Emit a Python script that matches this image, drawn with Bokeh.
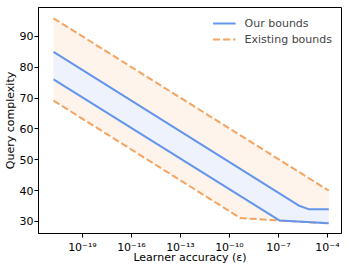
from bokeh.plotting import figure
from bokeh.models import FixedTicker, Legend, LegendItem, Range1d
from bokeh.embed import file_html
from bokeh.resources import INLINE

# ---- data ----
our_upper_eps = [1.7e-21, 1.7e-6, 7.0e-6, 1.2e-4]
our_upper_q = [85.0, 35.2, 34.0, 34.0]
our_lower_eps = [1.7e-21, 1.2e-7, 1.2e-4]
our_lower_q = [76.1, 30.3, 29.4]
ex_upper_eps = [1.7e-21, 1.2e-4]
ex_upper_q = [95.9, 40.0]
ex_lower_eps = [1.7e-21, 4.7e-10, 1.2e-7, 1.2e-4]
ex_lower_q = [69.2, 31.1, 30.3, 29.4]

x_tick_values = [1e-19, 1e-16, 1e-13, 1e-10, 1e-7, 1e-4]
x_tick_labels = ["10⁻¹⁹", "10⁻¹⁶", "10⁻¹³", "10⁻¹⁰", "10⁻⁷", "10⁻⁴"]
y_tick_values = [30, 40, 50, 60, 70, 80, 90]

BLUE = "#6495ED"
ORANGE = "#F4A460"
BLUE_FILL = "#edf2fd"
ORANGE_FILL = "#fff4eb"
FONT = "DejaVu Sans"

p = figure(width=350, height=275, x_axis_type="log",
           x_range=Range1d(10 ** -21.69, 10 ** -3.14),
           y_range=Range1d(26.1, 99.4),
           output_backend="svg", toolbar_location=None,
           min_border_top=7, min_border_right=9, min_border_bottom=42, min_border_left=38)

# fills
p.patch(ex_upper_eps + ex_lower_eps[::-1], ex_upper_q + ex_lower_q[::-1],
        fill_color=ORANGE_FILL, fill_alpha=1.0, line_alpha=0)
p.patch(our_upper_eps + our_lower_eps[::-1], our_upper_q + our_lower_q[::-1],
        fill_color=BLUE_FILL, fill_alpha=1.0, line_alpha=0)

# lines
r_ex = p.line(ex_upper_eps, ex_upper_q, line_color=ORANGE, line_width=2, line_dash="7 3")
p.line(ex_lower_eps, ex_lower_q, line_color=ORANGE, line_width=2, line_dash="7 3")
r_our = p.line(our_upper_eps, our_upper_q, line_color=BLUE, line_width=2)
p.line(our_lower_eps, our_lower_q, line_color=BLUE, line_width=2)

# axes
p.xaxis.ticker = FixedTicker(ticks=x_tick_values, minor_ticks=[])
p.xaxis.major_label_overrides = {v: l for v, l in zip(x_tick_values, x_tick_labels)}
p.yaxis.ticker = FixedTicker(ticks=y_tick_values, minor_ticks=[])
p.xaxis.axis_label = "Learner accuracy (ε)"
p.yaxis.axis_label = "Query complexity"
for ax in (p.xaxis, p.yaxis):
    ax.axis_label_text_font = FONT
    ax.axis_label_text_font_size = "11px"
    ax.axis_label_text_font_style = "normal"
    ax.axis_label_text_color = "black"
    ax.major_label_text_font = FONT
    ax.major_label_text_font_size = "11px"
    ax.major_label_text_color = "black"
    ax.major_tick_in = 0
    ax.major_tick_out = 4
    ax.minor_tick_in = 0
    ax.minor_tick_out = 0
    ax.major_tick_line_color = "black"
    ax.axis_line_color = "black"
    ax.major_label_standoff = 1
    ax.axis_label_standoff = 0
p.xaxis.major_label_standoff = 3
p.xaxis.axis_label_standoff = -6

p.xgrid.visible = False
p.ygrid.visible = False
p.outline_line_color = "black"
p.outline_line_width = 1

legend = Legend(items=[LegendItem(label="Our bounds", renderers=[r_our]),
                       LegendItem(label="Existing bounds", renderers=[r_ex])],
                location="top_right", border_line_alpha=0, background_fill_alpha=0,
                label_text_font=FONT, label_text_font_size="11px",
                glyph_width=23, glyph_height=14, label_height=14, spacing=2,
                label_standoff=9, padding=4, margin=5)
p.add_layout(legend)

open("out.html", "w").write(file_html(p, INLINE))
